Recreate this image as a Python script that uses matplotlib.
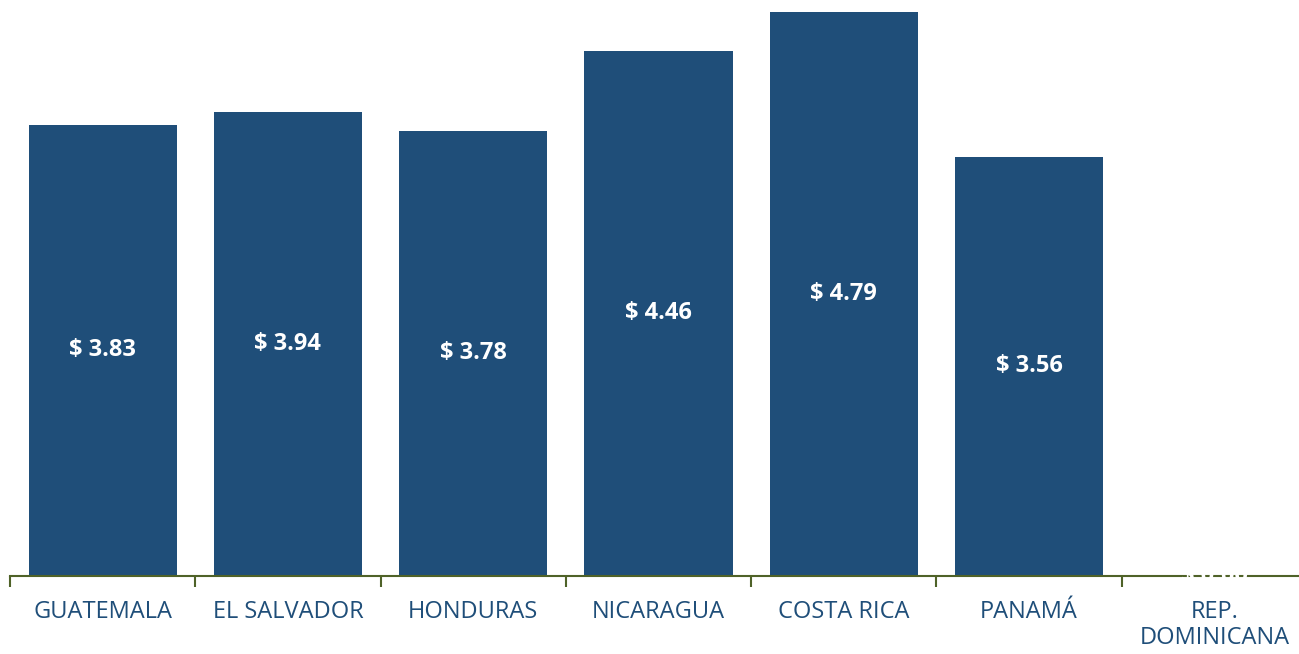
import matplotlib.pyplot as plt
import numpy as np

# datos
paises = ['GUATEMALA', 'EL SALVADOR', 'HONDURAS', 'NICARAGUA', 'COSTA RICA', 'PANAMÁ', 'REP.\nDOMINICANA']
valores = [3.83, 3.94, 3.78, 4.46, 4.79, 3.56, 0.00]

azul = '#1F4E79'
verde = '#4F6228'

plt.rcParams['font.family'] = ['Open Sans', 'DejaVu Sans']

fig = plt.figure(figsize=(12.99, 6.54), dpi=100)
ax = fig.add_axes([10 / 1299, 78 / 654, 1297 / 1299, 576 / 654])

x = np.arange(len(paises))
ax.bar(x, valores, width=0.8, color=azul, zorder=2)

for xi, v in zip(x, valores):
    ax.text(xi, v / 2, '$ %.2f' % v, ha='center', va='center', color='white',
            fontsize=17, fontweight='bold', zorder=5)

ax.set_xlim(-0.5, len(paises) - 0.5)
ax.set_ylim(0, 4.89)

for s in ['top', 'right', 'left']:
    ax.spines[s].set_visible(False)
ax.spines['bottom'].set_color(verde)
ax.spines['bottom'].set_linewidth(1.5)

ax.set_yticks([])
ax.set_xticks(np.arange(len(paises) + 1) - 0.5)
ax.set_xticklabels([])
ax.set_xticks(x, minor=True)
ax.set_xticklabels(paises, minor=True, color=azul, fontsize=17, va='top', linespacing=1.15)
ax.tick_params(axis='x', which='major', length=8, width=1.5, color=verde, direction='out')
ax.tick_params(axis='x', which='minor', length=0, pad=17)

fig.savefig('out.png', dpi=100)
